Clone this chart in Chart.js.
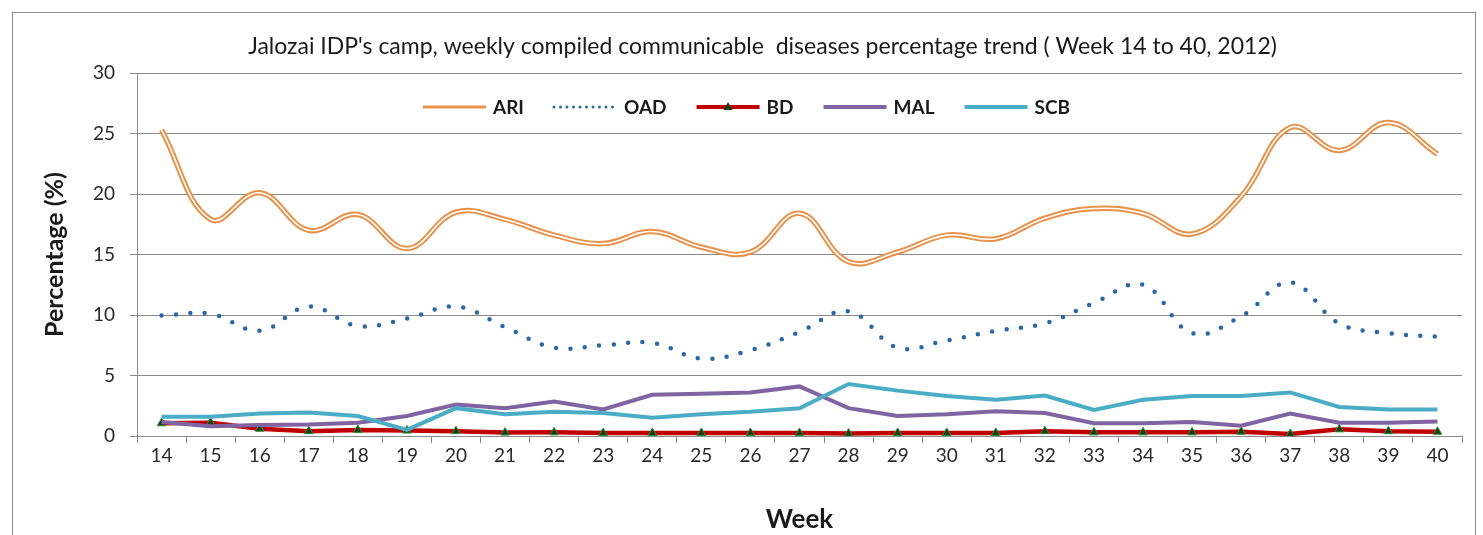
<!DOCTYPE html>
<html lang="en">
<head>
<meta charset="UTF-8">
<script src="https://cdn.jsdelivr.net/npm/chart.js@4.4.0/dist/chart.umd.min.js"></script>
<title>Jalozai weekly trend</title>
<style>
  html, body { margin: 0; padding: 0; background: #fff; overflow: hidden; }
  .frame { position: absolute; left: 12px; top: 12px; width: 1462px; height: 540px; border: 1px solid #8c8c8c; }
  #chart { position: absolute; left: 0; top: 0; }
</style>
</head>
<body>
<div class="frame"></div>
<canvas id="chart" width="1483" height="535"></canvas>
<script>
const weeks = ['14', '15', '16', '17', '18', '19', '20', '21', '22', '23', '24', '25', '26', '27',
               '28', '29', '30', '31', '32', '33', '34', '35', '36', '37', '38', '39', '40'];
const ari = [25.3, 17.9, 20.1, 17.0, 18.3, 15.5, 18.5, 17.9, 16.6, 15.9, 16.9, 15.6, 15.2, 18.4,
             14.4, 15.2, 16.6, 16.3, 18.0, 18.8, 18.4, 16.7, 19.8, 25.5, 23.6, 25.9, 23.3];
const oad = [9.95, 10.1, 8.7, 10.7, 9.1, 9.7, 10.7, 9.0, 7.3, 7.5, 7.7, 6.4, 7.1, 8.6,
             10.3, 7.3, 7.9, 8.7, 9.3, 11.0, 12.5, 8.5, 9.9, 12.7, 9.3, 8.5, 8.2];
const bd = [1.05, 1.1, 0.6, 0.4, 0.5, 0.45, 0.4, 0.28, 0.3, 0.25, 0.25, 0.25, 0.25, 0.25,
            0.2, 0.25, 0.25, 0.25, 0.4, 0.3, 0.3, 0.3, 0.35, 0.17, 0.55, 0.4, 0.35];
const mal = [1.15, 0.8, 0.9, 0.95, 1.1, 1.65, 2.6, 2.3, 2.85, 2.2, 3.4, 3.5, 3.6, 4.1,
             2.3, 1.65, 1.8, 2.05, 1.9, 1.05, 1.05, 1.15, 0.85, 1.85, 1.1, 1.1, 1.2];
const scb = [1.6, 1.6, 1.85, 1.95, 1.65, 0.5, 2.3, 1.8, 2.0, 1.9, 1.5, 1.8, 2.0, 2.3,
             4.3, 3.75, 3.3, 3.0, 3.35, 2.15, 3.0, 3.3, 3.3, 3.6, 2.4, 2.2, 2.2];
const yTicks = [0, 5, 10, 15, 20, 25, 30];

const chartTitle = "Jalozai IDP's camp, weekly compiled communicable  diseases percentage trend ( Week 14 to 40, 2012)";

// title + legend sit inside the frame / plot like the excel original
const decorPlugin = {
    id: 'decor',
    afterDraw(chart) {
        const ctx = chart.ctx;
        ctx.save();
        ctx.fillStyle = '#1a1a1a';
        ctx.font = '23px Lato';
        ctx.textAlign = 'center';
        ctx.textBaseline = 'middle';
        ctx.fillText(chartTitle, chart.width / 2 + 21, 47);

        const items = chart.data.datasets.filter(d => !d.helper);
        ctx.font = 'bold 19px Lato';
        const lineLen = 63, gap = 7, space = 30;
        let total = space * (items.length - 1);
        items.forEach(d => { total += lineLen + gap + ctx.measureText(d.label).width; });
        let x = chart.width / 2 + 5 - total / 2;
        const y = chart.chartArea.top + 34;
        ctx.textAlign = 'left';
        items.forEach(d => {
            ctx.beginPath();
            ctx.strokeStyle = d.borderColor;
            if (d.borderDash) {
                ctx.lineWidth = 3;
                ctx.setLineDash([0, 6.5]);
                ctx.lineCap = 'round';
            } else {
                ctx.lineWidth = d.label === 'ARI' ? 3 : 4;
                ctx.setLineDash([]);
                ctx.lineCap = 'butt';
            }
            ctx.moveTo(x, y);
            ctx.lineTo(x + lineLen, y);
            ctx.stroke();
            ctx.setLineDash([]);
            if (d.pointStyle === 'triangle') {
                const cx = x + lineLen / 2;
                ctx.beginPath();
                ctx.moveTo(cx, y - 5);
                ctx.lineTo(cx + 4.5, y + 3);
                ctx.lineTo(cx - 4.5, y + 3);
                ctx.closePath();
                ctx.fillStyle = d.pointBackgroundColor;
                ctx.fill();
            }
            ctx.fillStyle = '#1a1a1a';
            ctx.fillText(d.label, x + lineLen + gap, y + 1);
            x += lineLen + gap + ctx.measureText(d.label).width + space;
        });
        ctx.restore();
    }
};

const ctx = document.getElementById('chart').getContext('2d');
const myChart = new Chart(ctx, {
    type: 'line',
    data: {
        labels: weeks,
        datasets: [{
            label: 'ARI',
            data: ari,
            borderColor: '#E8914A',
            borderWidth: 5.5,
            tension: 0.4,
            pointRadius: 0,
            order: 6
        }, {
            label: 'ARI',
            helper: true,
            data: ari,
            borderColor: '#ffffff',
            borderWidth: 1.6,
            tension: 0.4,
            pointRadius: 0,
            order: 5
        }, {
            label: 'OAD',
            data: oad,
            borderColor: '#2A67A6',
            borderWidth: 4.5,
            borderDash: [0, 14.5],
            borderCapStyle: 'round',
            tension: 0.4,
            pointRadius: 0,
            order: 4
        }, {
            label: 'BD',
            data: bd,
            borderColor: '#C00000',
            borderWidth: 4.5,
            tension: 0,
            pointStyle: 'triangle',
            pointRadius: 5,
            pointBackgroundColor: '#1B3B1B',
            pointBorderColor: '#2F8F2F',
            pointBorderWidth: 1,
            order: 3
        }, {
            label: 'MAL',
            data: mal,
            borderColor: '#8064A2',
            borderWidth: 4,
            tension: 0,
            pointRadius: 0,
            order: 2
        }, {
            label: 'SCB',
            data: scb,
            borderColor: '#4BACC6',
            borderWidth: 4,
            tension: 0,
            pointRadius: 0,
            order: 1
        }]
    },
    options: {
        responsive: false,
        animation: false,
        layout: { padding: { top: 73, right: 21, left: 0, bottom: 0 } },
        plugins: {
            legend: { display: false },
            title: { display: false },
            tooltip: { enabled: false }
        },
        scales: {
            x: {
                offset: true,
                grid: { offset: true, drawOnChartArea: false, drawTicks: true, tickLength: 7, color: '#8a8a8a' },
                border: { color: '#8a8a8a' },
                ticks: { color: '#2a2a2a', font: { family: 'Lato', size: 19 }, padding: 1, maxRotation: 0, autoSkip: false },
                title: {
                    display: true, text: 'Week', color: '#1a1a1a',
                    font: { family: 'Lato', size: 26, weight: 'bold' },
                    padding: { top: 0, bottom: 0 }
                },
                afterFit: s => { s.height = 99; }
            },
            y: {
                min: 0,
                max: 30,
                afterBuildTicks: s => { s.ticks = yTicks.map(v => ({ value: v })); },
                grid: { color: '#8a8a8a', tickLength: 7 },
                border: { color: '#8a8a8a' },
                ticks: { color: '#2a2a2a', font: { family: 'Lato', size: 19 }, padding: 15 },
                title: {
                    display: true, text: 'Percentage (%)', color: '#1a1a1a',
                    font: { family: 'Lato', size: 25, weight: 'bold' },
                    padding: { top: 40, bottom: 0 }
                },
                afterFit: s => { s.width = 137; }
            }
        }
    },
    plugins: [decorPlugin]
});
</script>
</body>
</html>
